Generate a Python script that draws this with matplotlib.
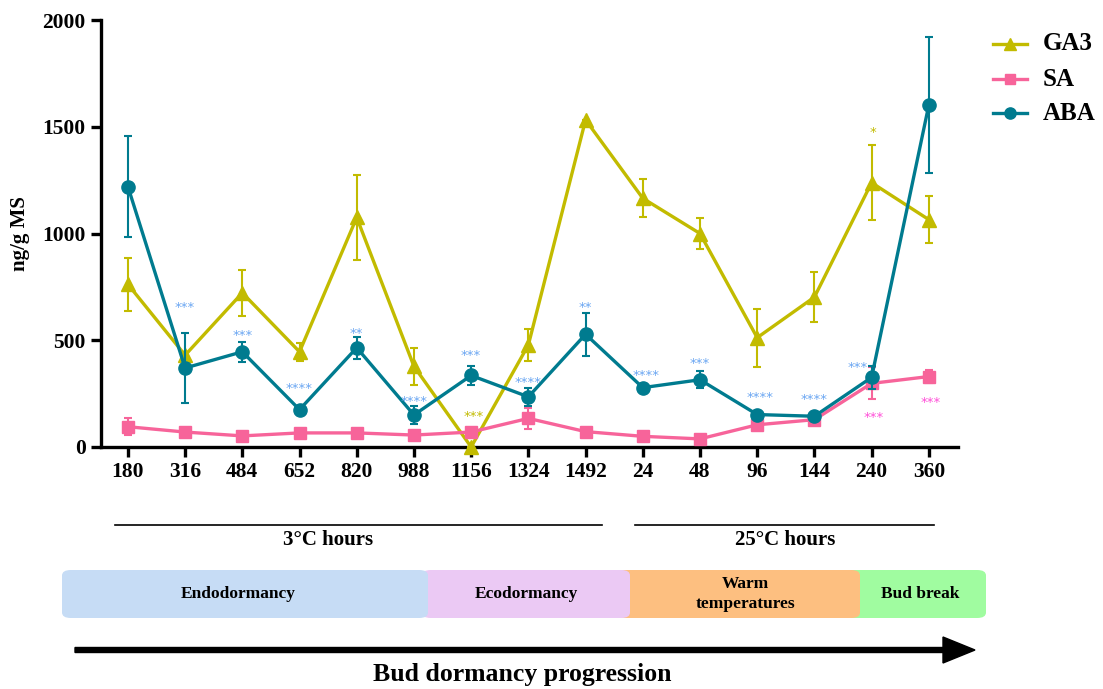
import matplotlib
matplotlib.use("Agg")
import matplotlib.pyplot as plt
from matplotlib.patches import FancyBboxPatch, FancyArrow
from matplotlib.lines import Line2D

# Sampling points: hours at 3 °C followed by hours at 25 °C
time_labels = ["180", "316", "484", "652", "820", "988", "1156", "1324", "1492",
               "24", "48", "96", "144", "240", "360"]

ga3 = [762, 430, 722, 446, 1075, 378, 0, 478, 1532, 1165, 1000, 512, 702, 1238, 1065]
ga3_err = [125, 0, 107, 43, 197, 88, 0, 73, 0, 90, 72, 135, 117, 176, 110]

sa = [95, 70, 52, 66, 66, 56, 70, 134, 72, 50, 38, 104, 128, 298, 330]
sa_err = [40, 0, 0, 0, 0, 0, 18, 49, 0, 0, 0, 0, 0, 75, 30]

aba = [1220, 370, 446, 175, 465, 150, 335, 235, 528, 278, 315, 152, 144, 326, 1602]
aba_err = [237, 162, 48, 0, 52, 40, 43, 43, 100, 0, 39, 0, 0, 55, 320]

# Significance marks: (position index, text, height in ng/g, colour key, x shift)
star_labels = [
    (1, "***", 679, "ABA", 0.0), (2, "***", 548, "ABA", 0.0), (3, "****", 300, "ABA", 0.0),
    (4, "**", 557, "ABA", 0.0), (5, "****", 239, "ABA", 0.0), (6, "***", 454, "ABA", 0.0),
    (7, "****", 328, "ABA", 0.0), (8, "**", 679, "ABA", 0.0), (9, "****", 361, "ABA", 0.05),
    (10, "***", 417, "ABA", 0.0), (11, "****", 258, "ABA", 0.05), (12, "****", 248, "ABA", 0.0),
    (13, "***", 398, "ABA", -0.25), (6, "***", 169, "GA3", 0.05), (13, "*", 1499, "GA3", 0.03),
    (13, "***", 164, "SA", 0.03), (14, "***", 234, "SA", 0.03),
]

colors = {"GA3": "#c2bb00", "SA": "#f7649a", "ABA": "#007b8f"}
star_colors = {"GA3": "#c2bb00", "SA": "#ff4fd8", "ABA": "#6aa6f2"}

serif = ["Liberation Serif", "DejaVu Serif"]
plt.rcParams["font.family"] = serif
plt.rcParams["font.weight"] = "bold"

W, H = 1103, 689
fig = plt.figure(figsize=(W / 100, H / 100), dpi=100)


def fx(px):
    return px / W


def fy(py):
    return 1 - py / H


ax = fig.add_axes([fx(101), fy(447), fx(958) - fx(101), fy(20) - fy(447)])

x = list(range(len(time_labels)))
series = [("GA3", ga3, ga3_err, "^", 10.5), ("SA", sa, sa_err, "s", 9), ("ABA", aba, aba_err, "o", 9.5)]
for z, (name, vals, errs, mk, ms) in enumerate(series):
    c = colors[name]
    ax.errorbar(x, vals, yerr=errs, color=c, lw=2.4, marker=mk, ms=ms,
                elinewidth=1.5, capsize=2.8, capthick=1.5, zorder=3 + z, clip_on=False)

for idx, txt, yv, key, dx in star_labels:
    ax.annotate(txt, (idx + dx, yv), xytext=(0, -4), textcoords="offset points",
                ha="center", va="center", color=star_colors[key], fontsize=9.5,
                fontweight="normal", family="DejaVu Sans", zorder=10)

ax.set_xlim(-0.47, 14.51)
ax.set_ylim(0, 2000)
ax.set_yticks([0, 500, 1000, 1500, 2000])
ax.set_xticks(x)
ax.set_xticklabels(time_labels)
for s in ["top", "right"]:
    ax.spines[s].set_visible(False)
for s in ["left", "bottom"]:
    ax.spines[s].set_linewidth(2.4)
ax.tick_params(axis="both", width=2.4, length=7, labelsize=15.5, pad=4)
for lab in ax.get_xticklabels() + ax.get_yticklabels():
    lab.set_fontweight("bold")
ax.set_ylabel("ng/g MS", fontsize=15, fontweight="bold", labelpad=9)

# Legend entries drawn beside the plot
legend_rows = [("GA3", "^", 10.5, 44), ("SA", "s", 9, 79), ("ABA", "o", 9.5, 113)]
for name, mk, ms, yp in legend_rows:
    fig.add_artist(Line2D([fx(993), fx(1027)], [fy(yp), fy(yp)], color=colors[name], lw=2.4))
    fig.add_artist(Line2D([fx(1010)], [fy(yp)], color=colors[name], marker=mk, ms=ms * 0.85, lw=0))
    fig.text(fx(1043), fy(yp), name, ha="left", va="center", fontsize=18, fontweight="bold")

# Temperature period brackets
fig.add_artist(Line2D([fx(115), fx(602)], [fy(525), fy(525)], color="black", lw=1.2))
fig.add_artist(Line2D([fx(635), fx(934)], [fy(525), fy(525)], color="black", lw=1.2))
fig.text(fx(328), fy(540), "3°C hours", ha="center", va="center", fontsize=15, fontweight="bold")
fig.text(fx(785), fy(540), "25°C hours", ha="center", va="center", fontsize=15, fontweight="bold")

# Dormancy phase boxes
phases = [
    (832, 986, "#a0fca0", "Bud break", 920),
    (617, 860, "#fdbf80", "Warm\ntemperatures", 745),
    (422, 630, "#ebc9f4", "Ecodormancy", 526),
    (62, 428, "#c6dcf5", "Endodormancy", 238),
]
y0, y1 = 570, 618
for xl, xr, col, txt, tx in phases:
    box = FancyBboxPatch((fx(xl), fy(y1)), fx(xr - xl), fy(y0) - fy(y1),
                         boxstyle="round,pad=0,rounding_size=0.008", transform=fig.transFigure,
                         facecolor=col, edgecolor="none")
    fig.add_artist(box)
    fig.text(fx(tx), fy(594), txt, ha="center", va="center", fontsize=12.5,
             fontweight="bold", linespacing=1.3)

# Progression arrow
arrow = FancyArrow(fx(75), fy(650), fx(975 - 75), 0, width=5 / H,
                   head_width=26 / H, head_length=fx(32), length_includes_head=True,
                   transform=fig.transFigure, color="black")
fig.add_artist(arrow)
fig.text(fx(522), fy(675), "Bud dormancy progression", ha="center", va="center",
         fontsize=18.5, fontweight="bold")

fig.savefig("out.png", dpi=100)
